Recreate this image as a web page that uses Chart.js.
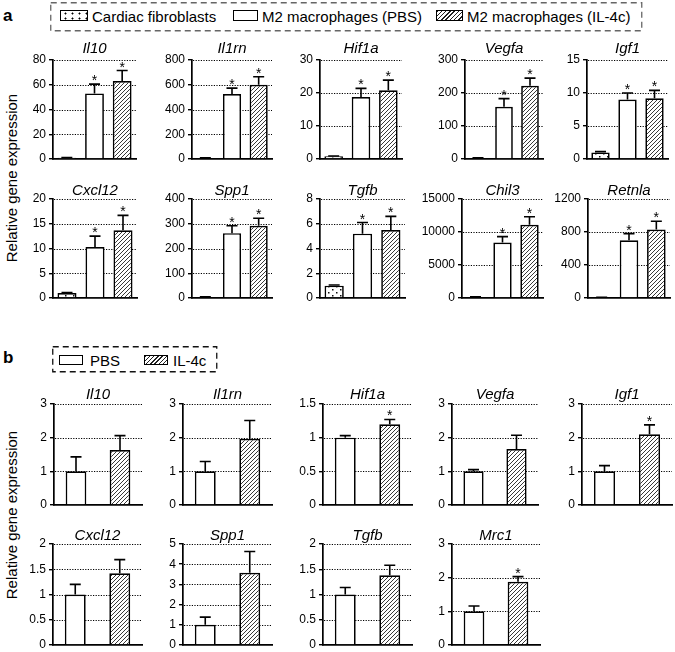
<!DOCTYPE html>
<html>
<head>
<meta charset="utf-8">
<script src="https://cdn.jsdelivr.net/npm/chart.js@4.4.0/dist/chart.umd.min.js"></script>
<style>
  body { margin: 0; background: #fff; }
  #page { position: relative; width: 675px; height: 652px; overflow: hidden; font-family: "Liberation Sans", Arial, sans-serif; color: #000; }
  canvas { position: absolute; }
  .lbl { position: absolute; font-weight: bold; font-size: 17px; line-height: 1; }
  .ytitle { position: absolute; font-size: 15px; line-height: 1; white-space: nowrap; transform: translate(-50%, -50%) rotate(-90deg); }
  .sw { position: absolute; box-sizing: border-box; border: 1.5px solid #000; background: #fff; }
  .sw.dots { background-image: radial-gradient(circle, #000 0.9px, transparent 1.1px); background-size: 7px 5px; background-position: 1px 0; }
  .sw.hatch { background-image: repeating-linear-gradient(135deg, #222 0 1px, #fff 1px 3px); }
  .txt { position: absolute; white-space: nowrap; font-size: 15px; line-height: 1; }
  svg { position: absolute; }
</style>
</head>
<body>
<div id="page">
  <div class="lbl" style="left:3px; top:7px;">a</div>
  <svg style="left:50px; top:2px;" width="593" height="30"><rect x="0.75" y="0.75" width="591" height="28" fill="none" stroke="#666" stroke-width="1.3" stroke-dasharray="6,4"/></svg>
  <div class="sw dots" style="left:60px; top:10px; width:28px; height:11px;"></div>
  <div class="txt" style="left:92px; top:9px;">Cardiac fibroblasts</div>
  <div class="sw" style="left:233px; top:10px; width:25px; height:11px;"></div>
  <div class="txt" style="left:262px; top:9px;">M2 macrophages (PBS)</div>
  <div class="sw hatch" style="left:436px; top:10px; width:27px; height:11px;"></div>
  <div class="txt" style="left:467px; top:9px;">M2 macrophages (IL-4c)</div>
  <div class="ytitle" style="left:11px; top:178px;">Relative gene expression</div>

  <div class="lbl" style="left:3px; top:349px;">b</div>
  <svg style="left:52px; top:346px;" width="166" height="27"><rect x="0.75" y="0.75" width="164" height="25" fill="none" stroke="#111" stroke-width="1.3" stroke-dasharray="6,4"/></svg>
  <div class="sw" style="left:59px; top:355px; width:24px; height:10px;"></div>
  <div class="txt" style="left:90px; top:353px;">PBS</div>
  <div class="sw hatch" style="left:144px; top:355px; width:24px; height:10px;"></div>
  <div class="txt" style="left:173px; top:353px;">IL-4c</div>
  <div class="ytitle" style="left:11px; top:515px;">Relative gene expression</div>
</div>
<script>
const FONT = '"Liberation Sans", Arial, sans-serif';

// panel a: cardiac fibroblasts vs M2 macrophages
const groupsA = ['Cardiac fibroblasts', 'M2 macrophages (PBS)', 'M2 macrophages (IL-4c)'];
const genesA = ['Il10', 'Il1rn', 'Hif1a', 'Vegfa', 'Igf1', 'Cxcl12', 'Spp1', 'Tgfb', 'Chil3', 'Retnla'];
const cfA = [1, 8, 0.8, 3, 1, 1, 4, 1, 150, 8];
const pbsA = [53, 525, 18.8, 158, 9, 10.3, 262, 5.2, 8400, 700];
const il4cA = [63, 600, 20.8, 222, 9.2, 13.7, 292, 5.5, 11100, 830];
const cfSemA = [0.2, 2, 0.1, 1, 0.12, 0.1, 1, 0.05, 20, 2];
const pbsSemA = [7.5, 48, 2.6, 25, 1, 2.2, 30, 0.9, 900, 80];
const il4cSemA = [8.5, 65, 3.1, 23, 1.2, 3, 30, 1.1, 1200, 100];
const starsA = [
  [false, true, true], [false, true, true], [false, true, true], [false, true, true], [false, true, true],
  [false, true, true], [false, true, true], [false, true, true], [false, true, true], [false, true, true]
];
const yMaxA = [80, 800, 30, 300, 15, 20, 400, 8, 15000, 1200];
const yStepA = [20, 200, 10, 100, 5, 5, 100, 2, 5000, 400];

// panel b: PBS vs IL-4c
const groupsB = ['PBS', 'IL-4c'];
const genesB = ['Il10', 'Il1rn', 'Hif1a', 'Vegfa', 'Igf1', 'Cxcl12', 'Spp1', 'Tgfb', 'Mrc1'];
const pbsB = [1, 1, 1, 1, 1, 1, 1, 1, 1];
const il4cB = [1.63, 1.97, 1.2, 1.66, 2.1, 1.42, 3.58, 1.38, 1.88];
const pbsSemB = [0.43, 0.29, 0.03, 0.05, 0.17, 0.2, 0.38, 0.14, 0.16];
const il4cSemB = [0.43, 0.54, 0.07, 0.41, 0.28, 0.27, 1.05, 0.2, 0.15];
const starsB = [false, false, true, false, true, false, false, false, true];
const yMaxB = [3, 3, 1.5, 3, 3, 2, 5, 2, 3];
const yStepB = [1, 1, 0.5, 1, 1, 0.5, 1, 0.5, 1];

// layout: [y axis x, right end x, row]; rows: [top y, zero y, title offset]
const layoutA = [[53, 136, 0], [192, 272, 0], [320, 402, 0], [465, 543, 0], [587, 668, 0],
                 [53, 137, 1], [192, 272, 1], [320, 405, 1], [462, 543, 1], [588, 670, 1]];
const rowsA = [[60, 159, 11], [199, 298, 8]];
const layoutB = [[54, 142, 0], [183, 272, 0], [323, 412, 0], [452, 538, 0], [582, 672, 0],
                 [53, 142, 1], [183, 272, 1], [323, 412, 1], [452, 540, 1]];
const rowsB = [[404, 505, 9], [544, 645, 8]];

const page = document.getElementById('page');

function makeHatch() {
  const c = document.createElement('canvas');
  c.width = 4; c.height = 4;
  const g = c.getContext('2d');
  g.fillStyle = '#fff'; g.fillRect(0, 0, 4, 4);
  g.strokeStyle = '#222'; g.lineWidth = 0.9;
  g.beginPath();
  g.moveTo(0, 4); g.lineTo(4, 0);
  g.moveTo(-1, 1); g.lineTo(1, -1);
  g.moveTo(3, 5); g.lineTo(5, 3);
  g.stroke();
  return g.createPattern(c, 'repeat');
}

function makeDots() {
  const c = document.createElement('canvas');
  c.width = 8; c.height = 6;
  const g = c.getContext('2d');
  g.fillStyle = '#fff'; g.fillRect(0, 0, 8, 6);
  g.fillStyle = '#111';
  g.fillRect(2, 1, 1.5, 1.5);
  g.fillRect(6, 4, 1.5, 1.5);
  return g.createPattern(c, 'repeat');
}

const hatchPat = makeHatch();
const dotPat = makeDots();

// dotted grid, error bars, asterisks and gene title
function panelPlugin(o) {
  return {
    id: 'panel',
    beforeDatasetsDraw(chart) {
      const { ctx, chartArea: a, scales: { y } } = chart;
      ctx.save();
      ctx.strokeStyle = '#000';
      ctx.lineWidth = 1.2;
      ctx.setLineDash([1.2, 1.4]);
      y.ticks.forEach(t => {
        if (t.value <= 0) return;
        const py = Math.round(y.getPixelForValue(t.value)) + 0.5;
        ctx.beginPath();
        ctx.moveTo(a.left + 1, py);
        ctx.lineTo(a.right, py);
        ctx.stroke();
      });
      ctx.restore();
    },
    afterDatasetsDraw(chart) {
      const { ctx, chartArea: a, scales: { y } } = chart;
      const meta = chart.getDatasetMeta(0);
      const vals = chart.data.datasets[0].data;
      ctx.save();
      ctx.strokeStyle = '#000';
      ctx.fillStyle = '#000';
      ctx.lineWidth = 1.6;
      meta.data.forEach((bar, i) => {
        const top = y.getPixelForValue(vals[i] + o.sem[i]);
        ctx.beginPath();
        ctx.moveTo(bar.x, bar.y);
        ctx.lineTo(bar.x, top);
        ctx.moveTo(bar.x - 5.5, top);
        ctx.lineTo(bar.x + 5.5, top);
        ctx.stroke();
        if (o.stars[i]) {
          ctx.font = '14px ' + FONT;
          ctx.textAlign = 'center';
          ctx.textBaseline = 'alphabetic';
          ctx.fillText('*', bar.x, top + 1);
        }
      });
      ctx.font = 'italic 15px ' + FONT;
      ctx.textAlign = 'center';
      ctx.textBaseline = 'middle';
      ctx.fillText(o.title, (a.left + a.right) / 2, a.top - o.titleGap);
      ctx.restore();
    }
  };
}

function buildChart(o) {
  const padTop = 28, padRight = 5, padBottom = 14, yW = 50;
  const w = o.right - o.axis + yW + padRight;
  const h = o.zero - o.top + padTop + padBottom;
  const cv = document.createElement('canvas');
  cv.width = w; cv.height = h;
  cv.style.left = (o.axis - yW) + 'px';
  cv.style.top = (o.top - padTop) + 'px';
  cv.style.width = w + 'px';
  cv.style.height = h + 'px';
  page.appendChild(cv);
  new Chart(cv, {
    type: 'bar',
    data: {
      labels: o.labels,
      datasets: [{
        data: o.values,
        backgroundColor: o.fills,
        borderColor: '#000',
        borderWidth: 1.7,
        borderSkipped: 'bottom',
        barPercentage: o.barPct,
        categoryPercentage: 1
      }]
    },
    options: {
      responsive: false,
      animation: false,
      devicePixelRatio: 1,
      layout: { padding: { top: padTop, right: padRight, bottom: padBottom, left: 0 } },
      plugins: { legend: { display: false }, tooltip: { enabled: false }, title: { display: false } },
      scales: {
        x: {
          ticks: { display: false },
          grid: { display: false },
          border: { color: '#000', width: 1.7 },
          afterFit: s => { s.height = 0; }
        },
        y: {
          min: 0,
          max: o.max,
          afterFit: s => { s.width = yW; },
          ticks: {
            stepSize: o.step,
            color: '#000',
            padding: 3,
            font: { family: FONT, size: 12 },
            callback: v => String(v)
          },
          grid: { drawOnChartArea: false, drawTicks: true, tickLength: 4, color: '#000', lineWidth: 1.4 },
          border: { color: '#000', width: 1.7 }
        }
      }
    },
    plugins: [panelPlugin(o)]
  });
}

genesA.forEach((g, i) => {
  const [axis, right, r] = layoutA[i];
  const [top, zero, gap] = rowsA[r];
  buildChart({
    axis, right, top, zero, titleGap: gap, title: g,
    labels: groupsA,
    values: [cfA[i], pbsA[i], il4cA[i]],
    sem: [cfSemA[i], pbsSemA[i], il4cSemA[i]],
    stars: starsA[i],
    max: yMaxA[i], step: yStepA[i],
    fills: [dotPat, '#fff', hatchPat],
    barPct: 0.68
  });
});

genesB.forEach((g, i) => {
  const [axis, right, r] = layoutB[i];
  const [top, zero, gap] = rowsB[r];
  buildChart({
    axis, right, top, zero, titleGap: gap, title: g,
    labels: groupsB,
    values: [pbsB[i], il4cB[i]],
    sem: [pbsSemB[i], il4cSemB[i]],
    stars: [false, starsB[i]],
    max: yMaxB[i], step: yStepB[i],
    fills: ['#fff', hatchPat],
    barPct: 0.47
  });
});
</script>
</body>
</html>
